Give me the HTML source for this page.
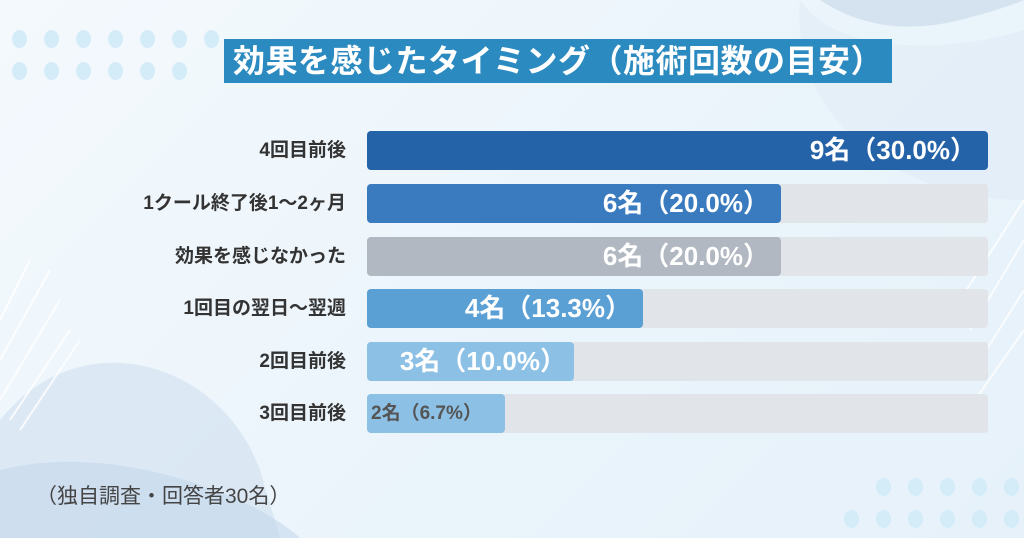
<!DOCTYPE html>
<html><head><meta charset="utf-8"><style>
body{margin:0;width:1024px;height:538px;overflow:hidden;font-family:"Liberation Sans","Noto Sans CJK JP",sans-serif;background:linear-gradient(135deg,#f4f9fd,#eaf4fb 60%,#e6f1fa);position:relative}
.abs{position:absolute}
.title{left:224px;top:39px;width:668px;height:44px;background:#2b8abf;color:#fff;font-size:32px;font-weight:bold;line-height:44px;text-align:center;letter-spacing:0.5px;white-space:nowrap}
.lab{right:678px;width:340px;text-align:right;font-size:19px;font-weight:bold;color:#333;line-height:39px;white-space:nowrap}
.track{left:367px;width:621px;height:39px;background:#e1e4e9;border-radius:4px}
.fill{left:367px;height:39px;border-radius:4px;color:#fff;font-weight:bold;font-size:26px;line-height:39px;text-align:right;box-sizing:border-box;padding-right:12px;white-space:nowrap}
.dot{position:absolute;width:15px;height:18px;border-radius:50%;background:#d3ecf8}
</style></head><body>
<svg class="abs" style="left:0;top:0" width="1024" height="538">
<path d="M820 0 Q880 40 960 20 Q1000 10 1024 0Z" fill="#d5e3f0"/>
<path d="M800 0 C 840 60, 960 50, 1024 30 L1024 200 C 900 200, 790 120, 800 0Z" fill="#dfebf6" opacity="0.6"/>
<path d="M0 420 C 80 320, 220 360, 260 470 L 280 538 L0 538Z" fill="#cadcee" opacity="0.5"/>
<path d="M0 470 C 120 440, 260 500, 300 538 L0 538Z" fill="#bfd4ea" opacity="0.5"/>
<g stroke="#fff" stroke-width="2" opacity="0.8">
<line x1="0" y1="320" x2="30" y2="260"/><line x1="0" y1="360" x2="50" y2="270"/><line x1="0" y1="400" x2="60" y2="300"/><line x1="10" y1="420" x2="70" y2="330"/><line x1="20" y1="430" x2="80" y2="340"/>
<line x1="960" y1="300" x2="1024" y2="200"/><line x1="970" y1="330" x2="1024" y2="240"/><line x1="980" y1="360" x2="1024" y2="290"/><line x1="975" y1="400" x2="1024" y2="330"/>
</g>
</svg>
<div class="dot" style="left:12px;top:30px"></div><div class="dot" style="left:44px;top:30px"></div><div class="dot" style="left:76px;top:30px"></div><div class="dot" style="left:108px;top:30px"></div><div class="dot" style="left:140px;top:30px"></div><div class="dot" style="left:172px;top:30px"></div><div class="dot" style="left:204px;top:30px"></div>
<div class="dot" style="left:12px;top:62px"></div><div class="dot" style="left:44px;top:62px"></div><div class="dot" style="left:76px;top:62px"></div><div class="dot" style="left:108px;top:62px"></div><div class="dot" style="left:140px;top:62px"></div><div class="dot" style="left:172px;top:62px"></div>
<div class="dot" style="left:876px;top:478px"></div><div class="dot" style="left:908px;top:478px"></div><div class="dot" style="left:940px;top:478px"></div><div class="dot" style="left:972px;top:478px"></div><div class="dot" style="left:1004px;top:478px"></div>
<div class="dot" style="left:844px;top:510px"></div><div class="dot" style="left:876px;top:510px"></div><div class="dot" style="left:908px;top:510px"></div><div class="dot" style="left:940px;top:510px"></div><div class="dot" style="left:972px;top:510px"></div><div class="dot" style="left:1004px;top:510px"></div>
<div class="abs title">効果を感じたタイミング（施術回数の目安）</div>

<div class="abs lab" style="top:131px">4回目前後</div>
<div class="abs track" style="top:131px"></div>
<div class="abs fill" style="top:131px;width:621px;background:#2563a8">9名（30.0%）</div>

<div class="abs lab" style="top:184px">1クール終了後1～2ヶ月</div>
<div class="abs track" style="top:184px"></div>
<div class="abs fill" style="top:184px;width:414px;background:#3a7bbf">6名（20.0%）</div>

<div class="abs lab" style="top:237px">効果を感じなかった</div>
<div class="abs track" style="top:237px"></div>
<div class="abs fill" style="top:237px;width:414px;background:#b1b8c1">6名（20.0%）</div>

<div class="abs lab" style="top:289px">1回目の翌日～翌週</div>
<div class="abs track" style="top:289px"></div>
<div class="abs fill" style="top:289px;width:276px;background:#5ba0d5">4名（13.3%）</div>

<div class="abs lab" style="top:342px">2回目前後</div>
<div class="abs track" style="top:342px"></div>
<div class="abs fill" style="top:342px;width:207px;background:#8cc0e5;padding-right:8px">3名（10.0%）</div>

<div class="abs lab" style="top:394px">3回目前後</div>
<div class="abs track" style="top:394px"></div>
<div class="abs fill" style="top:394px;width:138px;background:#8cc0e5;color:#555;font-size:19px;text-align:left;padding-left:4px">2名（6.7%）</div>

<div class="abs" style="left:36px;top:480px;font-size:21px;color:#444">（独自調査・回答者30名）</div>
</body></html>
